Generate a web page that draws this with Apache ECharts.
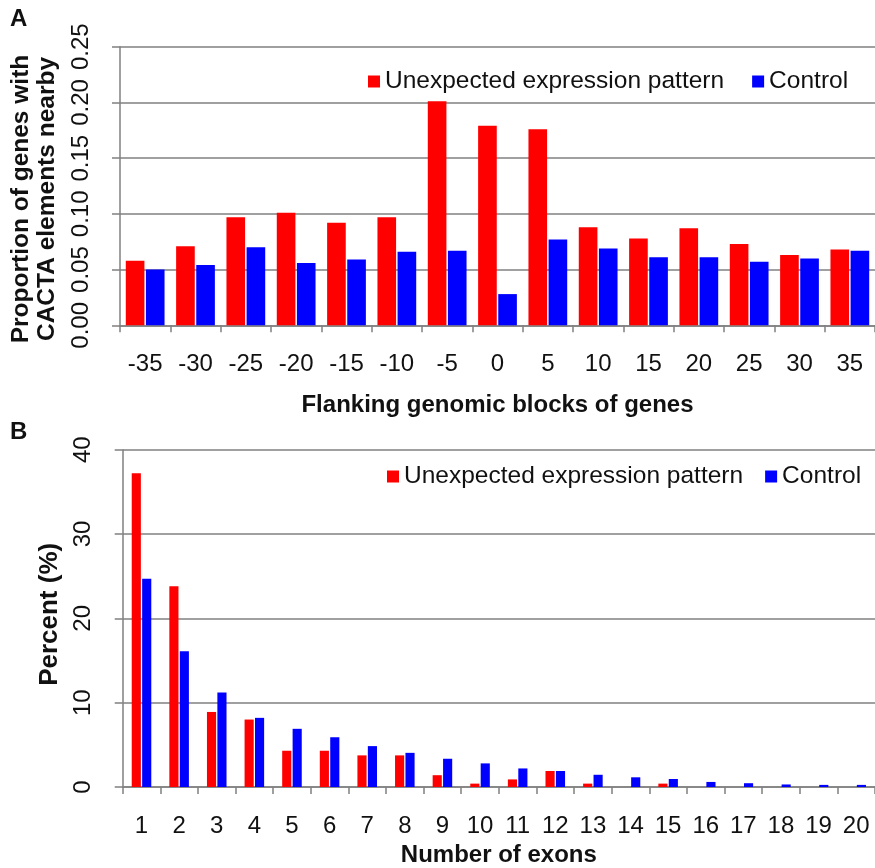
<!DOCTYPE html>
<html>
<head>
<meta charset="utf-8">
<script src="https://cdn.jsdelivr.net/npm/echarts@6/dist/echarts.min.js"></script>
<style>
html,body{margin:0;padding:0;background:#fff;}
#chart{width:875px;height:868px;}
</style>
</head>
<body>
<div id="chart"></div>
<script>
// ---- Data ----
const seriesNames = ['Unexpected expression pattern', 'Control'];

const categoriesA = ['-35','-30','-25','-20','-15','-10','-5','0','5','10','15','20','25','30','35'];
const unexpectedA = [0.058,0.071,0.097,0.101,0.092,0.097,0.201,0.179,0.176,0.088,0.078,0.087,0.073,0.063,0.068];
const controlA    = [0.050,0.054,0.070,0.056,0.059,0.066,0.067,0.028,0.077,0.069,0.061,0.061,0.057,0.060,0.067];

const categoriesB = ['1','2','3','4','5','6','7','8','9','10','11','12','13','14','15','16','17','18','19','20'];
const unexpectedB = [37.2,23.8,8.9,8.0,4.3,4.3,3.75,3.75,1.4,0.4,0.9,1.9,0.4,0,0.4,0,0,0,0,0];
const controlB    = [24.7,16.1,11.2,8.2,6.9,5.9,4.85,4.05,3.35,2.8,2.2,1.9,1.45,1.15,0.95,0.6,0.45,0.3,0.25,0.25];

const yNameA = 'Proportion of genes with\nCACTA elements nearby';
const xNameA = 'Flanking genomic blocks of genes';
const yNameB = 'Percent (%)';
const xNameB = 'Number of exons';

// ---- Style ----
const FONT = '"Liberation Sans", Arial, Helvetica, sans-serif';
const TXT = '#111';
const GRAY = '#808080';
const RED = '#ff0000';
const BLUE = '#0000ff';

const chart = echarts.init(document.getElementById('chart'), null, {renderer: 'canvas'});

function xAxisCfg(gridIndex, data, name, labelMargin, nameGap) {
  return {
    type: 'category', gridIndex, data, name,
    nameLocation: 'middle', nameGap, nameMoveOverlap: false,
    nameTextStyle: {fontFamily: FONT, fontSize: 24, fontWeight: 'bold', color: TXT},
    axisLine: {show: true, lineStyle: {color: GRAY, width: 1.5}},
    axisTick: {show: true, length: 7, inside: false, alignWithLabel: false, interval: 0, lineStyle: {color: GRAY, width: 1.5}},
    axisLabel: {interval: 0, margin: labelMargin, fontFamily: FONT, fontSize: 24, color: TXT},
    splitLine: {show: false}
  };
}
function yAxisCfg(gridIndex, max, interval, name, nameGap, labelMargin, fmt, nameFont, namePad) {
  return {
    type: 'value', gridIndex, min: 0, max, interval, name,
    nameLocation: 'middle', nameGap, nameRotate: 90, nameMoveOverlap: false,
    nameTextStyle: {fontFamily: FONT, fontSize: nameFont, fontWeight: 'bold', color: TXT, lineHeight: 26, padding: namePad},
    axisLine: {show: true, lineStyle: {color: GRAY, width: 1.5}},
    axisTick: {show: true, length: 8, inside: false, lineStyle: {color: GRAY, width: 1.5}},
    axisLabel: {rotate: 90, margin: labelMargin, fontFamily: FONT, fontSize: 24, color: TXT, formatter: fmt},
    splitLine: {show: true, lineStyle: {color: GRAY, width: 1.5}}
  };
}

const option = {
  backgroundColor: '#fff',
  animation: false,
  title: [
    {text: 'A', left: 5, top: 2, textStyle: {fontFamily: FONT, fontSize: 24, fontWeight: 'bold', color: TXT}},
    {text: 'B', left: 5, top: 415, textStyle: {fontFamily: FONT, fontSize: 24, fontWeight: 'bold', color: TXT}}
  ],
  legend: [
    {data: seriesNames, left: 363, top: 64, icon: 'rect', itemWidth: 12, itemHeight: 12, itemGap: 28,
     textStyle: {fontFamily: FONT, fontSize: 24.5, color: TXT}, selectedMode: false},
    {data: seriesNames, left: 382, top: 459, icon: 'rect', itemWidth: 12, itemHeight: 12, itemGap: 22,
     textStyle: {fontFamily: FONT, fontSize: 24.5, color: TXT}, selectedMode: false}
  ],
  grid: [
    {left: 119, top: 46.7, width: 762, height: 278.6, containLabel: false},
    {left: 122.7, top: 449.7, width: 752.5, height: 341.3, containLabel: false}
  ],
  xAxis: [
    xAxisCfg(0, categoriesA, xNameA, 27, 68),
    xAxisCfg(1, categoriesB, xNameB, 27, 56)
  ],
  yAxis: [
    yAxisCfg(0, 0.25, 0.05, yNameA, 60, 27, v => v.toFixed(2), 24.5, [0, 26, 0, 0]),
    yAxisCfg(1, 40, 10, yNameB, 60, 27, v => String(v), 26, [0, 0, 0, 8])
  ],
  series: [
    {name: seriesNames[0], type: 'bar', xAxisIndex: 0, yAxisIndex: 0, data: unexpectedA,
     itemStyle: {color: RED}, barCategoryGap: '23%', barGap: '8%'},
    {name: seriesNames[1], type: 'bar', xAxisIndex: 0, yAxisIndex: 0, data: controlA,
     itemStyle: {color: BLUE}, barCategoryGap: '23%', barGap: '8%'},
    {name: seriesNames[0], type: 'bar', xAxisIndex: 1, yAxisIndex: 1, data: unexpectedB,
     itemStyle: {color: RED}, barCategoryGap: '48%', barGap: '14%'},
    {name: seriesNames[1], type: 'bar', xAxisIndex: 1, yAxisIndex: 1, data: controlB,
     itemStyle: {color: BLUE}, barCategoryGap: '48%', barGap: '14%'}
  ]
};
chart.setOption(option);
</script>
</body>
</html>
